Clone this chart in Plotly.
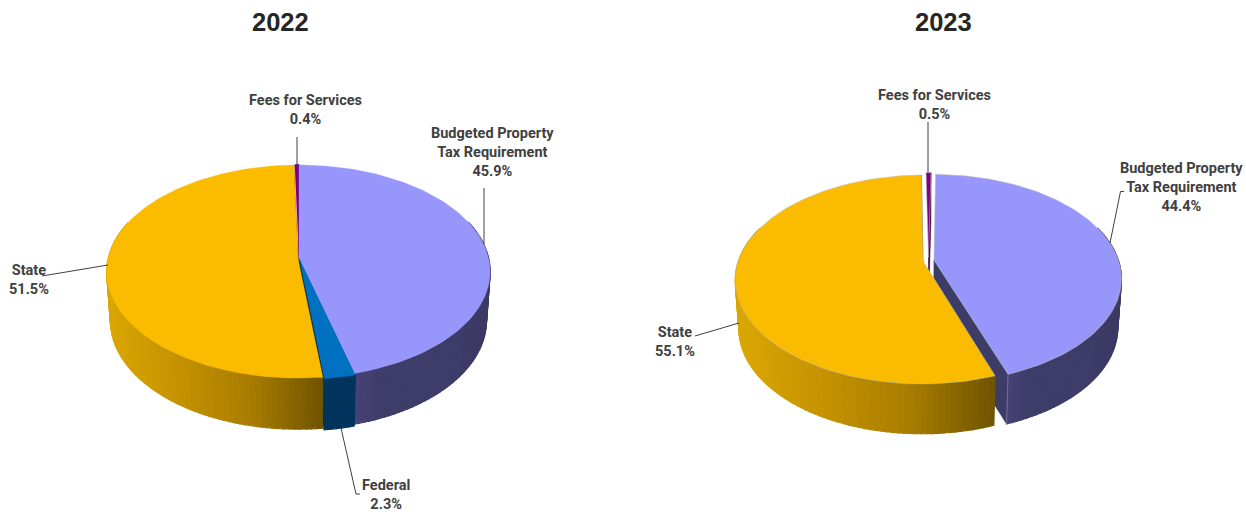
import math
import plotly.graph_objects as go

W, H = 1246, 512

# ---- data ----
titles = ["2022", "2023"]
labels_2022 = ["Budgeted Property<br>Tax Requirement", "Federal", "State", "Fees for Services"]
values_2022 = [45.9, 2.3, 51.5, 0.4]
labels_2023 = ["Budgeted Property<br>Tax Requirement", "State", "Fees for Services"]
values_2023 = [44.4, 55.1, 0.5]

# ---- style ----
TOP = {"Budgeted": "#9797fb", "Federal": "#0070c0", "State": "#fbbc00", "Fees": "#7f007f"}
SIDE = {"Budgeted": [(72, 66, 118), (62, 60, 104), (62, 60, 104), (62, 60, 104), (62, 60, 104), (60, 58, 100)],
        "Federal": [(0, 52, 92), (0, 52, 92)],
        "State": [(218, 166, 4), (195, 146, 0), (168, 124, 0), (112, 84, 0)],
        "Fees": [(70, 0, 70), (70, 0, 70)]}
WALL = {"Budgeted": "#3c3c66", "Federal": "#00284a", "State": "#7a5c00", "Fees": "#400040"}

geom_2022 = dict(cx=299, cy=258, R=189.6, B=104.8, k=0.127, cy2=306.5, R2=186, B2=107, rot=0.0,
                 explode={"Federal": 0.012, "Fees": 0.008, "Budgeted": 0.0, "State": 0.006}, edge=0)
geom_2023 = dict(cx=928.5, cy=260.5, R=184.5, B=101, k=0.177, cy2=309, R2=181, B2=102, rot=0.9,
                 explode={"Budgeted": 0.03, "State": 0.03, "Fees": 0.03, "Federal": 0.0}, edge=0.7)


def key(label):
    return label.split()[0].split("<")[0]


def proj(g, X, Z, low):
    f = 1 / (1 + g["k"] * Z)
    if low:
        return g["cx"] + g["R2"] * X * f, g["cy2"] - g["B2"] * Z * f
    return g["cx"] + g["R"] * X * f, g["cy"] - g["B"] * Z * f


def project(g, th, e, mid, low=False):
    return proj(g, math.sin(th) + e * math.sin(mid), math.cos(th) + e * math.cos(mid), low)


def poly(fig, pts, color, line=None, lw=0.6):
    xs = [p[0] for p in pts] + [pts[0][0]]
    ys = [p[1] for p in pts] + [pts[0][1]]
    fig.add_trace(go.Scatter(x=xs, y=ys, mode="lines", fill="toself", fillcolor=color,
                             line=dict(color=line or color, width=lw), hoverinfo="skip"))


def ramp(stops, t):
    t = max(0, min(1, t)) * (len(stops) - 1)
    i = min(int(t), len(stops) - 2)
    u = t - i
    c = [stops[i][j] + (stops[i + 1][j] - stops[i][j]) * u for j in range(3)]
    return "rgb(%d,%d,%d)" % tuple(c)


def slices(labels, values, g):
    tot = sum(values)
    a = math.radians(g["rot"])
    out = []
    for lab, v in zip(labels, values):
        b = a + 2 * math.pi * v / tot
        out.append((key(lab), a, b))
        a = b
    return out


def draw_pie(fig, labels, values, g):
    sl = slices(labels, values, g)
    # back to front: the slice that contains the back of the pie first
    sl = sorted(sl, key=lambda s: -math.cos((s[1] + s[2]) / 2) + (1 if s[0] == "State" else 0))
    for name, a, b in sl:
        mid = (a + b) / 2
        e = g["explode"][name]
        ox, oz = e * math.sin(mid), e * math.cos(mid)
        # radial wall at the clockwise end of the slice
        wall = [proj(g, ox, oz, False), project(g, b, e, mid), project(g, b, e, mid, True), proj(g, ox, oz, True)]
        poly(fig, wall, WALL[name])
        # outer side as narrow strips
        n = max(2, int(math.degrees(b - a) / 1.5))
        left, right = g["cx"] - g["R"], g["cx"] + g["R"]
        for i in range(n):
            t0 = a + (b - a) * i / n
            t1 = a + (b - a) * (i + 1) / n
            if math.cos((t0 + t1) / 2) > 0.35:
                continue
            q = [project(g, t0, e, mid), project(g, t1, e, mid),
                 project(g, t1, e, mid, True), project(g, t0, e, mid, True)]
            xm = (q[0][0] + q[1][0]) / 2
            if name == "State":
                end = project(g, a, e, mid)[0]
                u = (xm - left) / (end - left)
            else:
                u = (xm - project(g, b, e, mid)[0]) / (right - project(g, b, e, mid)[0])
            poly(fig, q, ramp(SIDE[name], u), lw=1.2)
        if g["edge"] and name == "Budgeted":
            c = project(g, b, e, mid)
            d = project(g, b, e, mid, True)
            fig.add_trace(go.Scatter(x=[c[0], d[0]], y=[c[1], d[1]], mode="lines",
                                     line=dict(color="#7c7ca4", width=0.8), hoverinfo="skip"))
        # top face
        n = max(3, int(math.degrees(b - a) / 1.5))
        top = [proj(g, ox, oz, False)] + [project(g, a + (b - a) * i / n, e, mid) for i in range(n + 1)]
        poly(fig, top, TOP[name], line="#b8b8b8" if g["edge"] else None, lw=0.5 if g["edge"] else 0.3)


fig = go.Figure()
draw_pie(fig, labels_2022, values_2022, geom_2022)
draw_pie(fig, labels_2023, values_2023, geom_2023)

LEADER = "#404040"
leaders = [
    ([297, 297], [137, 166]),
    ([484, 484], [188, 244]),
    ([42, 108], [276, 265]),
    ([341, 356, 360], [428, 494, 494]),
    ([928, 928], [122, 172]),
    ([1110, 1120.5, 1124], [243, 191.5, 191.5]),
    ([695, 739], [336, 323]),
]
for xs, ys in leaders:
    fig.add_trace(go.Scatter(x=xs, y=ys, mode="lines", line=dict(color=LEADER, width=1), hoverinfo="skip"))

notes = []
for i, t in enumerate(titles):
    notes.append(dict(x=[280, 943][i], y=22, text="<b>%s</b>" % t,
                      font=dict(size=25.5, color="#262626", family="Liberation Sans")))


def pct(labels, values, pos):
    for lab, v, (x, y) in zip(labels, values, pos):
        notes.append(dict(x=x, y=y, text="<b>%s<br>%.1f%%</b>" % (lab, v),
                          font=dict(size=14.5, color="#404040", family="Roboto")))


pct(labels_2022, values_2022, [(492, 152), (386, 495), (29, 279.5), (305, 109.5)])
pct(labels_2023, values_2023, [(1181, 187), (675, 341.5), (934, 104.5)])

for n in notes:
    n.update(xref="x", yref="y", showarrow=False, xanchor="center", yanchor="middle")

fig.update_layout(width=W, height=H, margin=dict(l=0, r=0, t=0, b=0), showlegend=False,
                  paper_bgcolor="white", plot_bgcolor="white", annotations=notes,
                  xaxis=dict(range=[0, W], visible=False, fixedrange=True),
                  yaxis=dict(range=[H, 0], visible=False, fixedrange=True))
fig.write_html("out.html", config={"displayModeBar": False},
               post_script="document.documentElement.style.margin='0';document.body.style.margin='0';document.body.style.overflow='hidden';")
